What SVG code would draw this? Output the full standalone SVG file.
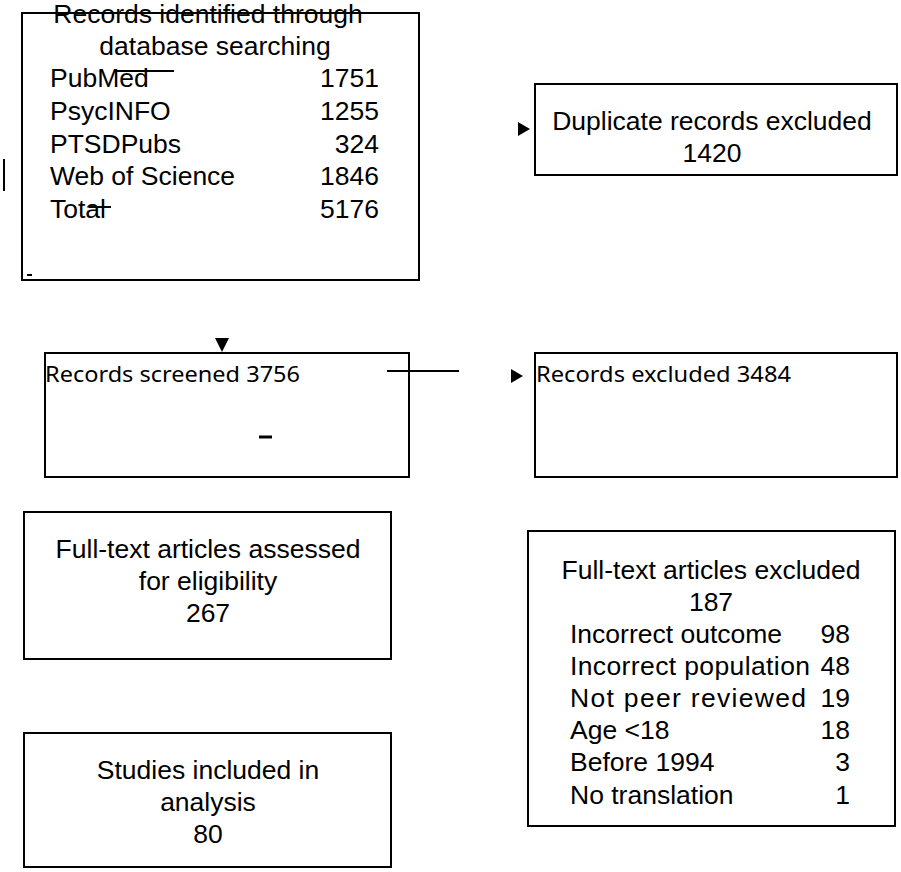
<svg xmlns="http://www.w3.org/2000/svg" width="901" height="872" viewBox="0 0 901 872">
<style>
.b{fill:#fff;stroke:#000;stroke-width:2}
.t{font-family:"Liberation Sans",Arial,sans-serif;font-size:26.5px;fill:#000}
.c{font-family:"Noto Sans",sans-serif;font-size:21px;fill:#000}
.m{text-anchor:middle}.e{text-anchor:end}
</style>
<rect width="901" height="872" fill="#fff"/>
<g id="identified">
<rect class="b" x="22" y="13" width="397" height="267"/>
<text class="t m" x="208" y="23">Records identified through</text>
<text class="t m" x="215" y="55">database searching</text>
<text class="t" x="50" y="87">PubMed</text><text class="t e" x="379" y="87">1751</text>
<text class="t" x="50" y="120">PsycINFO</text><text class="t e" x="379" y="120">1255</text>
<text class="t" x="50" y="153">PTSDPubs</text><text class="t e" x="379" y="153">324</text>
<text class="t" x="50" y="185">Web of Science</text><text class="t e" x="379" y="185">1846</text>
<text class="t" x="50" y="218">Total</text><text class="t e" x="379" y="218">5176</text>
</g>
<g id="duplicates">
<rect class="b" x="535" y="84" width="362" height="91"/>
<text class="t m" x="712" y="130">Duplicate records excluded</text>
<text class="t m" x="712" y="162">1420</text>
</g>
<g id="screened">
<rect class="b" x="45" y="353" width="364" height="124"/>
<text class="c" x="45" y="382" textLength="255" lengthAdjust="spacingAndGlyphs">Records screened 3756</text>
</g>
<g id="excluded">
<rect class="b" x="535" y="353" width="362" height="124"/>
<text class="c" x="536" y="382" textLength="255" lengthAdjust="spacingAndGlyphs">Records excluded 3484</text>
</g>
<g id="fulltext">
<rect class="b" x="24" y="512" width="367" height="147"/>
<text class="t m" x="208" y="558">Full-text articles assessed</text>
<text class="t m" x="208" y="590">for eligibility</text>
<text class="t m" x="208" y="622">267</text>
</g>
<g id="included">
<rect class="b" x="24" y="733" width="367" height="134"/>
<text class="t m" x="208" y="779">Studies included in</text>
<text class="t m" x="208" y="811">analysis</text>
<text class="t m" x="208" y="843">80</text>
</g>
<g id="ftexcluded">
<rect class="b" x="528" y="531" width="367" height="295"/>
<text class="t m" x="711" y="579">Full-text articles excluded</text>
<text class="t m" x="711" y="611">187</text>
<text class="t" x="570" y="643">Incorrect outcome</text><text class="t e" x="850" y="643">98</text>
<text class="t" x="570" y="675" textLength="240">Incorrect population</text><text class="t e" x="850" y="675">48</text>
<text class="t" x="570" y="707" textLength="236">Not peer reviewed</text><text class="t e" x="850" y="707">19</text>
<text class="t" x="570" y="739">Age &lt;18</text><text class="t e" x="850" y="739">18</text>
<text class="t" x="570" y="771">Before 1994</text><text class="t e" x="850" y="771">3</text>
<text class="t" x="570" y="804">No translation</text><text class="t e" x="850" y="804">1</text>
</g>
<g id="connectors" stroke="#000" fill="#000">
<line x1="117" y1="71" x2="174" y2="71" stroke-width="2"/>
<line x1="89" y1="207" x2="111" y2="207" stroke-width="2"/>
<line x1="4" y1="159" x2="4" y2="191" stroke-width="2"/>
<line x1="27" y1="275" x2="32" y2="275" stroke-width="2"/>
<line x1="387" y1="371" x2="459" y2="371" stroke-width="2"/>
<line x1="259" y1="437" x2="272" y2="437" stroke-width="3"/>
<polygon points="518,122 530,129 518,136" stroke="none"/>
<polygon points="511,369 523,376 511,383" stroke="none"/>
<polygon points="215,338 229,338 222,352" stroke="none"/>
</g>
</svg>
